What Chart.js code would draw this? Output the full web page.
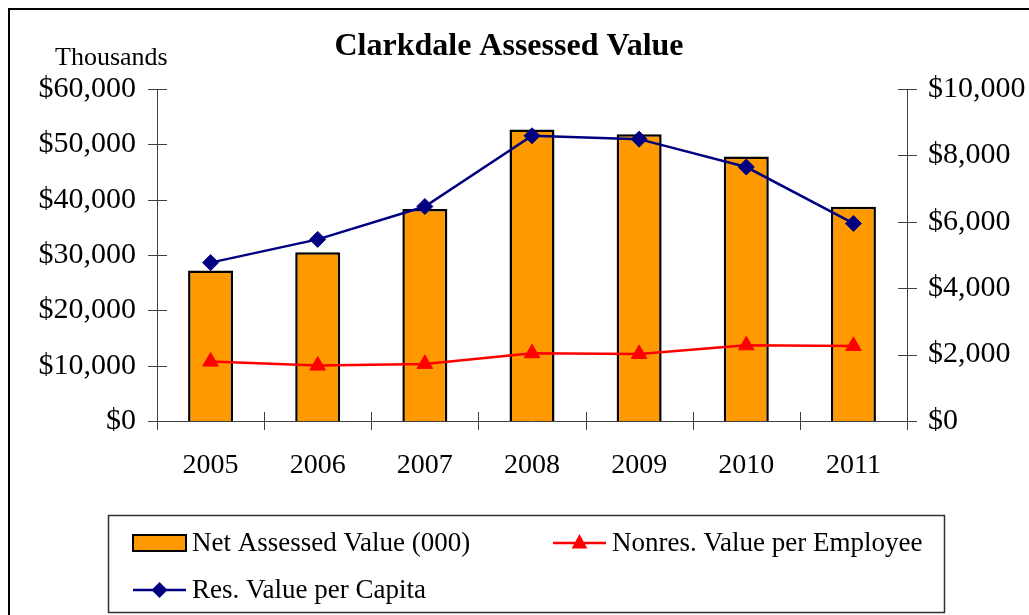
<!DOCTYPE html>
<html>
<head>
<meta charset="utf-8">
<script src="https://cdn.jsdelivr.net/npm/chart.js@4"></script>
<style>
  html, body { margin: 0; padding: 0; background: #fff; }
  #wrap { width: 1029px; height: 615px; position: relative; }
</style>
</head>
<body>
<div id="wrap"><canvas id="assessedChart" width="1029" height="615"></canvas></div>
<script>
const years = ['2005', '2006', '2007', '2008', '2009', '2010', '2011'];
const netAssessed = [27200, 30500, 38300, 52700, 51800, 47800, 38700];
const nonresPerEmployee = [1790, 1670, 1720, 2040, 2020, 2280, 2260];
const resPerCapita = [4770, 5470, 6460, 8590, 8490, 7650, 5950];

const serif = "'Liberation Serif', 'Times New Roman', serif";
const axisColor = '#404040';
const money = v => '$' + Number(v).toLocaleString('en-US');

// crossing tick marks, title, outer frame and legend box
const decorPlugin = {
    id: 'decor',
    afterDraw(chart) {
        const ctx = chart.ctx;
        const { x, y, y1 } = chart.scales;
        ctx.save();
        ctx.strokeStyle = axisColor;
        ctx.lineWidth = 1;
        ctx.beginPath();
        const n = years.length;
        for (let i = 0; i <= n; i++) {
            const px = Math.round(x.left + i * x.width / n) + 0.5;
            ctx.moveTo(px, x.top - 9);
            ctx.lineTo(px, x.top + 9);
        }
        y.ticks.forEach(t => {
            const py = Math.round(y.getPixelForValue(t.value)) + 0.5;
            ctx.moveTo(y.right - 9, py);
            ctx.lineTo(y.right + 10, py);
        });
        y1.ticks.forEach(t => {
            const py = Math.round(y1.getPixelForValue(t.value)) + 0.5;
            ctx.moveTo(y1.left - 9, py);
            ctx.lineTo(y1.left + 10, py);
        });
        ctx.stroke();

        // outer frame
        ctx.strokeStyle = '#000';
        ctx.lineWidth = 2;
        ctx.strokeRect(9, 9, 1100, 700);

        // title and unit label
        ctx.fillStyle = '#000';
        ctx.textBaseline = 'middle';
        ctx.textAlign = 'center';
        ctx.font = 'bold 32px ' + serif;
        ctx.fillText('Clarkdale Assessed Value', 509, 47);
        ctx.textAlign = 'left';
        ctx.font = '26px ' + serif;
        ctx.fillText('Thousands', 55, 58);

        // legend
        const ds = chart.data.datasets;
        ctx.strokeStyle = '#303030';
        ctx.lineWidth = 1.5;
        ctx.strokeRect(108.5, 515.5, 836, 97);
        ctx.font = '27px ' + serif;

        // bar swatch
        ctx.fillStyle = ds[0].backgroundColor;
        ctx.fillRect(133, 535, 53, 16);
        ctx.strokeStyle = '#000';
        ctx.lineWidth = 2;
        ctx.strokeRect(133, 535, 53, 16);
        ctx.fillStyle = '#000';
        ctx.fillText(ds[0].label, 192, 544);

        const lineItem = (d, lx, ly, tx) => {
            ctx.strokeStyle = d.borderColor;
            ctx.lineWidth = d.borderWidth;
            ctx.beginPath();
            ctx.moveTo(lx, ly);
            ctx.lineTo(lx + 53, ly);
            ctx.stroke();
            ctx.fillStyle = d.pointBackgroundColor;
            const r = d.pointRadius;
            ctx.beginPath();
            if (d.pointStyle === 'triangle') {
                ctx.moveTo(lx + 26.5, ly - r);
                ctx.lineTo(lx + 26.5 + r * 0.87, ly + r * 0.6);
                ctx.lineTo(lx + 26.5 - r * 0.87, ly + r * 0.6);
            } else {
                ctx.moveTo(lx + 26.5, ly - r);
                ctx.lineTo(lx + 26.5 + r, ly);
                ctx.lineTo(lx + 26.5, ly + r);
                ctx.lineTo(lx + 26.5 - r, ly);
            }
            ctx.closePath();
            ctx.fill();
            ctx.fillStyle = '#000';
            ctx.fillText(d.label, tx, ly + 1);
        };
        lineItem(ds[1], 553, 543, 612);
        lineItem(ds[2], 133, 590, 192);
        ctx.restore();
    }
};

const ctx = document.getElementById('assessedChart').getContext('2d');
new Chart(ctx, {
    type: 'bar',
    data: {
        labels: years,
        datasets: [{
            label: 'Net Assessed Value (000)',
            data: netAssessed,
            backgroundColor: '#FF9900',
            borderColor: '#000',
            borderWidth: 2.5,
            barPercentage: 0.42,
            categoryPercentage: 1,
            yAxisID: 'y',
            order: 3
        }, {
            type: 'line',
            label: 'Nonres. Value per Employee',
            data: nonresPerEmployee,
            borderColor: '#FF0000',
            borderWidth: 2.5,
            pointStyle: 'triangle',
            pointRadius: 9,
            pointBackgroundColor: '#FF0000',
            pointBorderColor: '#FF0000',
            pointBorderWidth: 1,
            tension: 0,
            yAxisID: 'y1',
            order: 2
        }, {
            type: 'line',
            label: 'Res. Value per Capita',
            data: resPerCapita,
            borderColor: '#000080',
            borderWidth: 2.5,
            pointStyle: 'rectRot',
            pointRadius: 8,
            pointBackgroundColor: '#000080',
            pointBorderColor: '#000080',
            pointBorderWidth: 1,
            tension: 0,
            yAxisID: 'y1',
            order: 1
        }]
    },
    options: {
        responsive: false,
        animation: false,
        layout: { padding: { top: 89, bottom: 124, left: 0, right: 0 } },
        plugins: {
            legend: { display: false },
            title: { display: false },
            tooltip: { enabled: false }
        },
        scales: {
            x: {
                offset: true,
                grid: { display: false, drawTicks: false },
                border: { display: true, color: axisColor, width: 1 },
                ticks: { color: '#000', padding: 28, font: { family: serif, size: 28 } },
                afterFit: s => { s.height = 70; }
            },
            y: {
                position: 'left',
                min: 0,
                max: 60000,
                grid: { display: false, drawTicks: false },
                border: { display: true, color: axisColor, width: 1 },
                ticks: { stepSize: 10000, color: '#000', padding: 21, font: { family: serif, size: 30 }, callback: money },
                afterFit: s => { s.width = 157; }
            },
            y1: {
                position: 'right',
                min: 0,
                max: 10000,
                grid: { display: false, drawTicks: false },
                border: { display: true, color: axisColor, width: 1 },
                ticks: { stepSize: 2000, color: '#000', padding: 21, font: { family: serif, size: 30 }, callback: money },
                afterFit: s => { s.width = 122; }
            }
        }
    },
    plugins: [decorPlugin]
});
</script>
</body>
</html>
